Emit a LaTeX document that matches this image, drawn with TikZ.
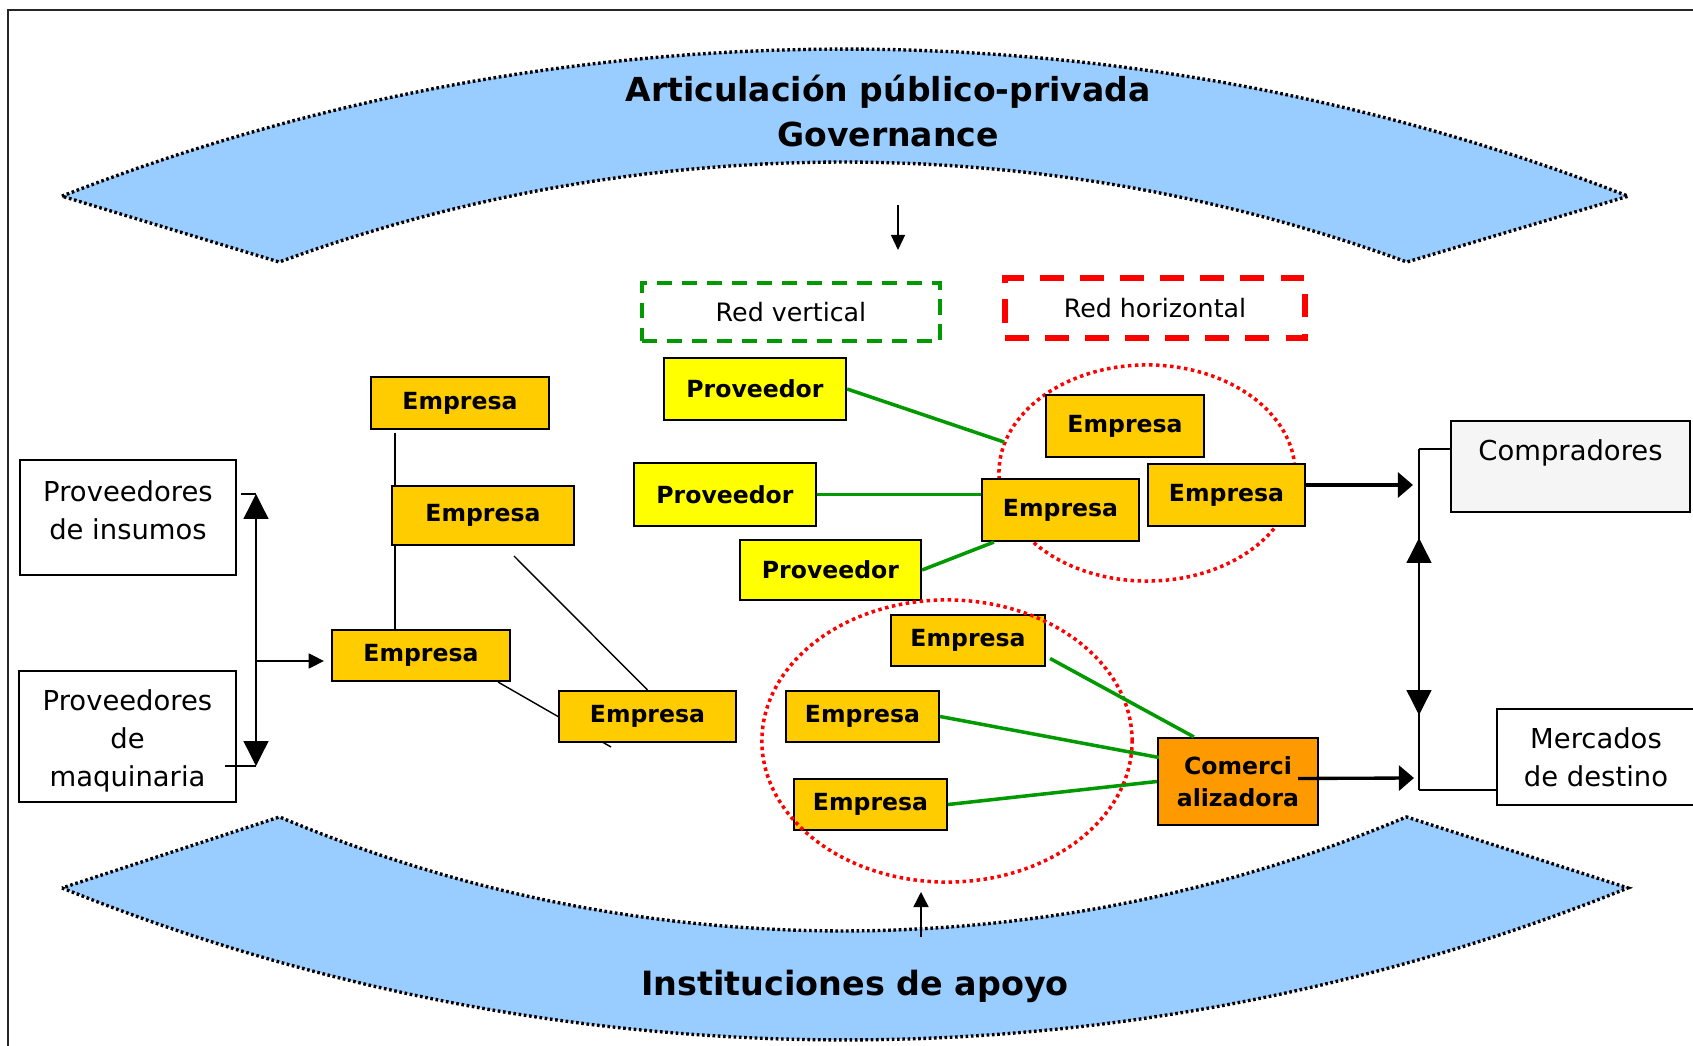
\documentclass[tikz,border=0pt]{standalone}
\usepackage{fontspec}
\setmainfont{DejaVu Sans}
\usetikzlibrary{arrows.meta,calc,backgrounds}
\definecolor{bandblue}{HTML}{99CCFF}
\definecolor{firmgold}{HTML}{FFCC00}
\definecolor{provyellow}{HTML}{FFFF00}
\definecolor{tradeorange}{HTML}{FF9900}
\definecolor{netgreen}{HTML}{009900}
\definecolor{buyergray}{HTML}{F5F5F5}
\tikzset{
  boxsize/.style 2 args={minimum width=#1cm, minimum height=#2cm},
  firm/.style={draw, line width=0.6pt, fill=firmgold, inner sep=0pt, font=\fontsize{6.7}{9}\selectfont\bfseries},
  prov/.style={firm, fill=provyellow},
  trade/.style={firm, fill=tradeorange, align=center},
  actor/.style={draw, line width=0.6pt, fill=white, inner sep=0pt, align=center, font=\fontsize{7.8}{10.8}\selectfont},
  netlabel/.style={inner sep=0pt, font=\fontsize{7.2}{9}\selectfont},
  band/.style={fill=bandblue, draw=black, line width=0.95pt, dash pattern=on 0.75pt off 0.75pt},
  bandtext/.style={anchor=base, inner sep=0pt, font=\fontsize{9.4}{12}\selectfont\bfseries},
  vlink/.style={draw=netgreen, line width=1pt},
  hring/.style={draw=red, line width=1pt, dash pattern=on 1pt off 1pt},
  thin line/.style={line width=0.4pt},
  flow/.style={line width=0.95pt, -{Triangle[length=4.3pt,width=7.1pt]}},
  hint/.style={line width=0.4pt, -{Triangle[length=4.3pt,width=4.3pt]}},
  both/.style={line width=0.4pt, {Triangle[length=7.1pt,width=7.1pt]}-{Triangle[length=7.1pt,width=7.1pt]}}
}
\begin{document}
\begin{tikzpicture}[x=0.01cm, y=-0.01cm] %coordenadas en pixeles
  \useasboundingbox (0,0) rectangle (1693,1046);
  %Marco
  \draw[line width=0.6pt, black!85] (8,1046) -- (8,10) -- (1693,10);
  %Textos de las bandas
  \node[bandtext] (gov1) at (888,102) {Articulación público-privada};
  \node[bandtext] (gov2) at (888,147) {Governance};
  \node[bandtext, font=\fontsize{9.5}{12}\selectfont\bfseries] (inst) at (855,995) {Instituciones de apoyo};
  %Redes
  \node[netlabel, boxsize={2.98}{0.58}, draw=netgreen, line width=0.95pt, dash pattern=on 4.3pt off 2.8pt] (redv) at (791,312) {Red vertical};
  \node[netlabel, boxsize={3.00}{0.60}, draw=red, line width=1.7pt, dash pattern=on 6.8pt off 4.6pt] (redh) at (1155,308) {Red horizontal};
  %Proveedores de la izquierda
  \node[actor, boxsize={2.16}{1.15}] (insumos) at (128,517.5) {Proveedores\\de insumos\\[-6.6pt]\mbox{}};
  \node[actor, boxsize={2.17}{1.31}] (maquin) at (127.5,736.5) {\mbox{}\\[-2.1pt]Proveedores\\de\\maquinaria};
  %Empresas de la izquierda
  \node[firm, boxsize={1.78}{0.52}] (emA) at (460,403) {Empresa};
  \node[firm, boxsize={1.82}{0.59}] (emB) at (483,515.5) {Empresa};
  \node[firm, boxsize={1.78}{0.51}] (emC) at (421,655.5) {Empresa};
  \node[firm, boxsize={1.77}{0.51}] (emD) at (647.5,716.5) {Empresa};
  %Red vertical
  \node[prov, boxsize={1.82}{0.62}] (prA) at (755,389) {Proveedor};
  \node[prov, boxsize={1.82}{0.63}] (prB) at (725,494.5) {Proveedor};
  \node[prov, boxsize={1.81}{0.60}] (prC) at (830.5,570) {Proveedor};
  \node[firm, boxsize={1.58}{0.62}] (emE) at (1125,426) {Empresa};
  \node[firm, boxsize={1.57}{0.62}] (emF) at (1060.5,510) {Empresa};
  \node[firm, boxsize={1.57}{0.62}] (emG) at (1226.5,495) {Empresa};
  %Red horizontal
  \node[firm, boxsize={1.54}{0.51}] (emH) at (968,640.5) {Empresa};
  \node[firm, boxsize={1.53}{0.51}] (emI) at (862.5,716.5) {Empresa};
  \node[firm, boxsize={1.53}{0.51}] (emJ) at (870.5,804.5) {Empresa};
  \node[trade, boxsize={1.60}{0.87}] (comer) at (1238,781.5) {Comerci\\alizadora};
  %Mercados
  \node[actor, fill=buyergray, boxsize={2.39}{0.91}] (compr) at (1570.5,466.5) {Compradores\\[-1.5pt]\mbox{}};
  \node[actor, boxsize={1.98}{0.96}] (merc) at (1596,757) {Mercados\\de destino};
  %Puntos libres
  \coordinate (govTail) at (898,205);
  \coordinate (govTip) at (898,250);
  \coordinate (instTail) at (921,937);
  \coordinate (instTip) at (921,892);
  \coordinate (insTop) at (256,494);
  \coordinate (insBot) at (256,766);
  \coordinate (insJoin) at (256,661);
  \coordinate (emAfoot) at (395,433);
  \coordinate (emBfoot) at (514,556);
  \coordinate (emDtail) at (611,747);
  \coordinate (prAend) at (1004,442);
  \coordinate (mktTop) at (1419,449);
  \coordinate (mktBot) at (1419,790);
  \coordinate (mktUp) at (1419,538);
  \coordinate (mktDown) at (1419,715);
  \begin{scope}[on background layer]
    %Bandas
    \draw[band] plot[domain=-111.27:-68.73, samples=80, variable=\t] ({845+2159*cos(\t)},{2208+2159*sin(\t)})
      -- plot[domain=-69.89:-110.11, samples=80, variable=\t] ({843+1640*cos(\t)},{1802+1640*sin(\t)}) -- cycle;
    \draw[band] plot[domain=111.97:68.03, samples=80, variable=\t] ({845+2093*cos(\t)},{-1053+2093*sin(\t)})
      -- plot[domain=67.13:112.87, samples=80, variable=\t] ({843+1450*cos(\t)},{-519+1450*sin(\t)}) -- cycle;
    %Lineas detras de las cajas
    \draw[thin line] (emAfoot) -- (emAfoot |- emC.north);
    \draw[thin line] (emBfoot) -- (emD.north);
    \draw[thin line] ($(emC.south east)+(-13,0)$) -- (emDtail);
    \draw[hring] (1147,473) ellipse [x radius=1.48cm, y radius=1.08cm];
  \end{scope}
  \draw[hring] (947,741) ellipse [x radius=1.85cm, y radius=1.41cm];
  %Flechas de las bandas
  \draw[hint, -{Triangle[length=4.3pt,width=4pt]}] (govTail) -- (govTip);
  \draw[hint] (instTail) -- (instTip);
  %Proveedores hacia empresas
  \draw[thin line] (insTop) -- ++(-15,0);
  \draw[thin line] (insBot) -- ++(-31,0);
  \draw[both] (insTop) -- (insBot);
  \draw[hint, shorten >=2pt] (insJoin) -- (insJoin -| emC.west);
  %Enlaces verdes
  \draw[vlink] (prA.east) -- (prAend);
  \draw[vlink] (prB.east) -- (prB.east -| emF.west);
  \draw[vlink] (prC.east) -- ($(emF.south west)+(13,0)$);
  \draw[vlink] ($(emH.east)+(4,18)$) -- ($(comer.north west)+(37,0)$);
  \draw[vlink] (emI.east) -- ($(comer.west)+(2,-24)$);
  \draw[vlink] (emJ.east) -- (comer.west);
  %Hacia los mercados
  \draw[flow] ($(emG.east)+(0,-10)$) -- ($(mktTop)+(-6,36)$);
  \draw[flow] ($(comer.east)+(-21,-3)$) -- ($(mktBot)+(-5,-12)$);
  \draw[thin line] (mktTop) -- (mktTop -| compr.west);
  \draw[thin line] (mktBot) -- (mktBot -| merc.west);
  \draw[thin line] (mktTop) -- (mktBot);
  \draw[both] (mktUp) -- (mktDown);
\end{tikzpicture}
\end{document}
